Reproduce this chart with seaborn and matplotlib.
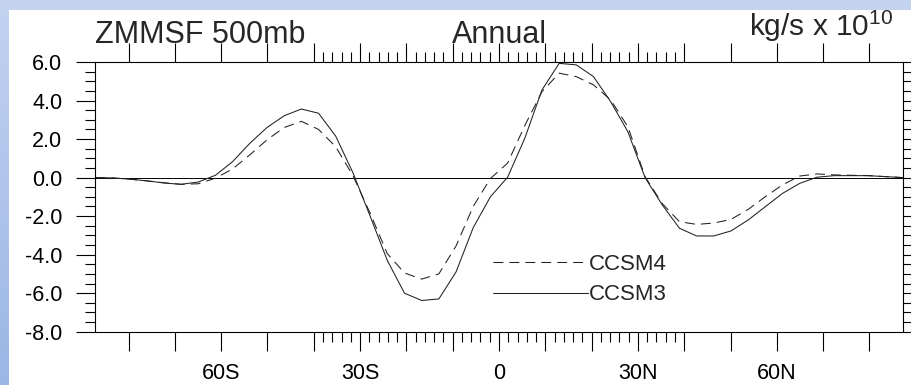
import numpy as np
import pandas as pd
import matplotlib
matplotlib.use("Agg")
import matplotlib.pyplot as plt
import seaborn as sns
from matplotlib.patches import Rectangle
from matplotlib.colors import LinearSegmentedColormap

# ---------------- data ----------------
lat = [-87.16, -83.48, -79.78, -76.07, -72.36, -68.65, -64.94, -61.23, -57.52, -53.81,
       -50.10, -46.39, -42.68, -38.97, -35.26, -31.54, -27.83, -24.12, -20.41, -16.70,
       -12.99, -9.28, -5.57, -1.86, 1.86, 5.57, 9.28, 12.99, 16.70, 20.41,
       24.12, 27.83, 31.54, 35.26, 38.97, 42.68, 46.39, 50.10, 53.81, 57.52,
       61.23, 64.94, 68.65, 72.36, 76.07, 79.78, 83.48, 87.16]

ccsm3 = [0.0, -0.02, -0.08, -0.17, -0.28, -0.35, -0.23, 0.12, 0.83, 1.78,
         2.6, 3.21, 3.56, 3.34, 2.15, 0.25, -2.0, -4.3, -6.0, -6.38,
         -6.3, -4.9, -2.6, -1.0, 0.02, 2.04, 4.55, 5.93, 5.85, 5.24,
         3.94, 2.38, 0.0, -1.42, -2.63, -3.03, -3.03, -2.77, -2.2, -1.51,
         -0.82, -0.3, 0.02, 0.1, 0.1, 0.1, 0.05, 0.0]

ccsm4 = [0.0, -0.02, -0.08, -0.17, -0.27, -0.35, -0.32, -0.03, 0.45, 1.18,
         1.96, 2.6, 2.92, 2.5, 1.6, 0.1, -1.85, -3.95, -4.95, -5.27,
         -5.0, -3.55, -1.5, -0.05, 0.75, 2.7, 4.46, 5.42, 5.24, 4.81,
         4.03, 2.64, 0.05, -1.35, -2.29, -2.43, -2.36, -2.17, -1.65, -0.99,
         -0.38, 0.08, 0.19, 0.14, 0.12, 0.1, 0.05, 0.0]

models = ["CCSM4", "CCSM3"]

x_major = [-80, -70, -60, -50, -40, -30, -20, -10, 0, 10, 20, 30, 40, 50, 60, 70, 80]
x_labels = ["", "", "60S", "", "", "30S", "", "", "0", "", "", "30N", "", "", "60N", "", ""]
y_major = [-8, -6, -4, -2, 0, 2, 4, 6]
y_labels = ["-8.0", "-6.0", "-4.0", "-2.0", "0.0", "2.0", "4.0", "6.0"]

title_left = "ZMMSF 500mb"
title_center = "Annual"
title_right = r"kg/s x 10$^{10}$"

# ---------------- style ----------------
sns.set_style("ticks")
plt.rcParams["font.family"] = ["Liberation Sans", "DejaVu Sans"]
plt.rcParams["mathtext.fontset"] = "custom"
plt.rcParams["mathtext.rm"] = "Liberation Sans"
plt.rcParams["mathtext.it"] = "Liberation Sans"
plt.rcParams["axes.edgecolor"] = "black"
plt.rcParams["axes.linewidth"] = 0.8

W, H = 911, 385
fig = plt.figure(figsize=(W / 100, H / 100), dpi=100)

# blue gradient backdrop
bg = fig.add_axes([0, 0, 1, 1], zorder=-10)
cmap = LinearSegmentedColormap.from_list("bg", ["#C3D3F0", "#9BB6E6"])
grad = np.linspace(0, 1, 256)[:, None]
bg.imshow(grad, cmap=cmap, aspect="auto", extent=[0, 1, 0, 1])
bg.set_axis_off()
fig.patches.append(Rectangle((9 / W, 0), (W - 9) / W, (H - 10) / H,
                             transform=fig.transFigure, facecolor="white",
                             edgecolor="none", zorder=-5))

ax_l, ax_r, ax_t, ax_b = 95.4, 902.6, 62.0, 331.7
ax = fig.add_axes([ax_l / W, (H - ax_b) / H, (ax_r - ax_l) / W, (ax_b - ax_t) / H])

df = pd.DataFrame({
    "lat": lat * 2,
    "value": ccsm4 + ccsm3,
    "model": ["CCSM4"] * len(lat) + ["CCSM3"] * len(lat),
})

lw = 0.75
line_color = "#202020"
sns.lineplot(data=df, x="lat", y="value", style="model", style_order=models,
             dashes={"CCSM4": (9.5, 5.8), "CCSM3": ""}, color=line_color, lw=lw,
             estimator=None, sort=False, ax=ax)

ax.axhline(0, color="black", lw=0.7, zorder=1)

ax.set_xlim(-87.16, 87.16)
ax.set_ylim(-8, 6)
ax.set_xlabel("")
ax.set_ylabel("")

ax.set_xticks(x_major, labels=x_labels)
ax.set_yticks(y_major, labels=y_labels)
x_minor = [v for v in np.arange(-38, 40, 2) if v % 10 != 0]
ax.set_xticks(x_minor, minor=True)
ax.set_yticks(np.arange(-8, 6.01, 0.5), minor=True)

ax.tick_params(which="major", direction="out", length=13.7, width=0.8,
               top=True, right=True, color="black", labelcolor="black", labelsize=15.5)
ax.tick_params(which="minor", direction="out", length=7, width=0.8,
               top=True, right=True, color="black")
ax.tick_params(axis="x", pad=9)
ax.tick_params(axis="y", pad=10)

for s in ax.spines.values():
    s.set_visible(True)
    s.set_color("black")
    s.set_linewidth(0.8)

# titles
ax.text(0.0, 1.0704, title_left, transform=ax.transAxes, ha="left", va="baseline", fontsize=22)
ax.text(0.5, 1.0704, title_center, transform=ax.transAxes, ha="center", va="baseline", fontsize=22)
ax.text(0.988, 1.096, title_right, transform=ax.transAxes, ha="right", va="baseline", fontsize=21.5)

# legend
handles, labels = ax.get_legend_handles_labels()
if ax.get_legend() is not None:
    ax.get_legend().remove()
leg = ax.legend(handles, labels, loc="upper left", bbox_to_anchor=(0.493, 0.289),
                frameon=False, fontsize=16, handlelength=4.28, handletextpad=0.0,
                labelspacing=0.43, borderpad=0, borderaxespad=0)
for line in leg.get_lines():
    line.set_color(line_color)
    line.set_linewidth(lw)

fig.savefig("out.png", dpi=100)
